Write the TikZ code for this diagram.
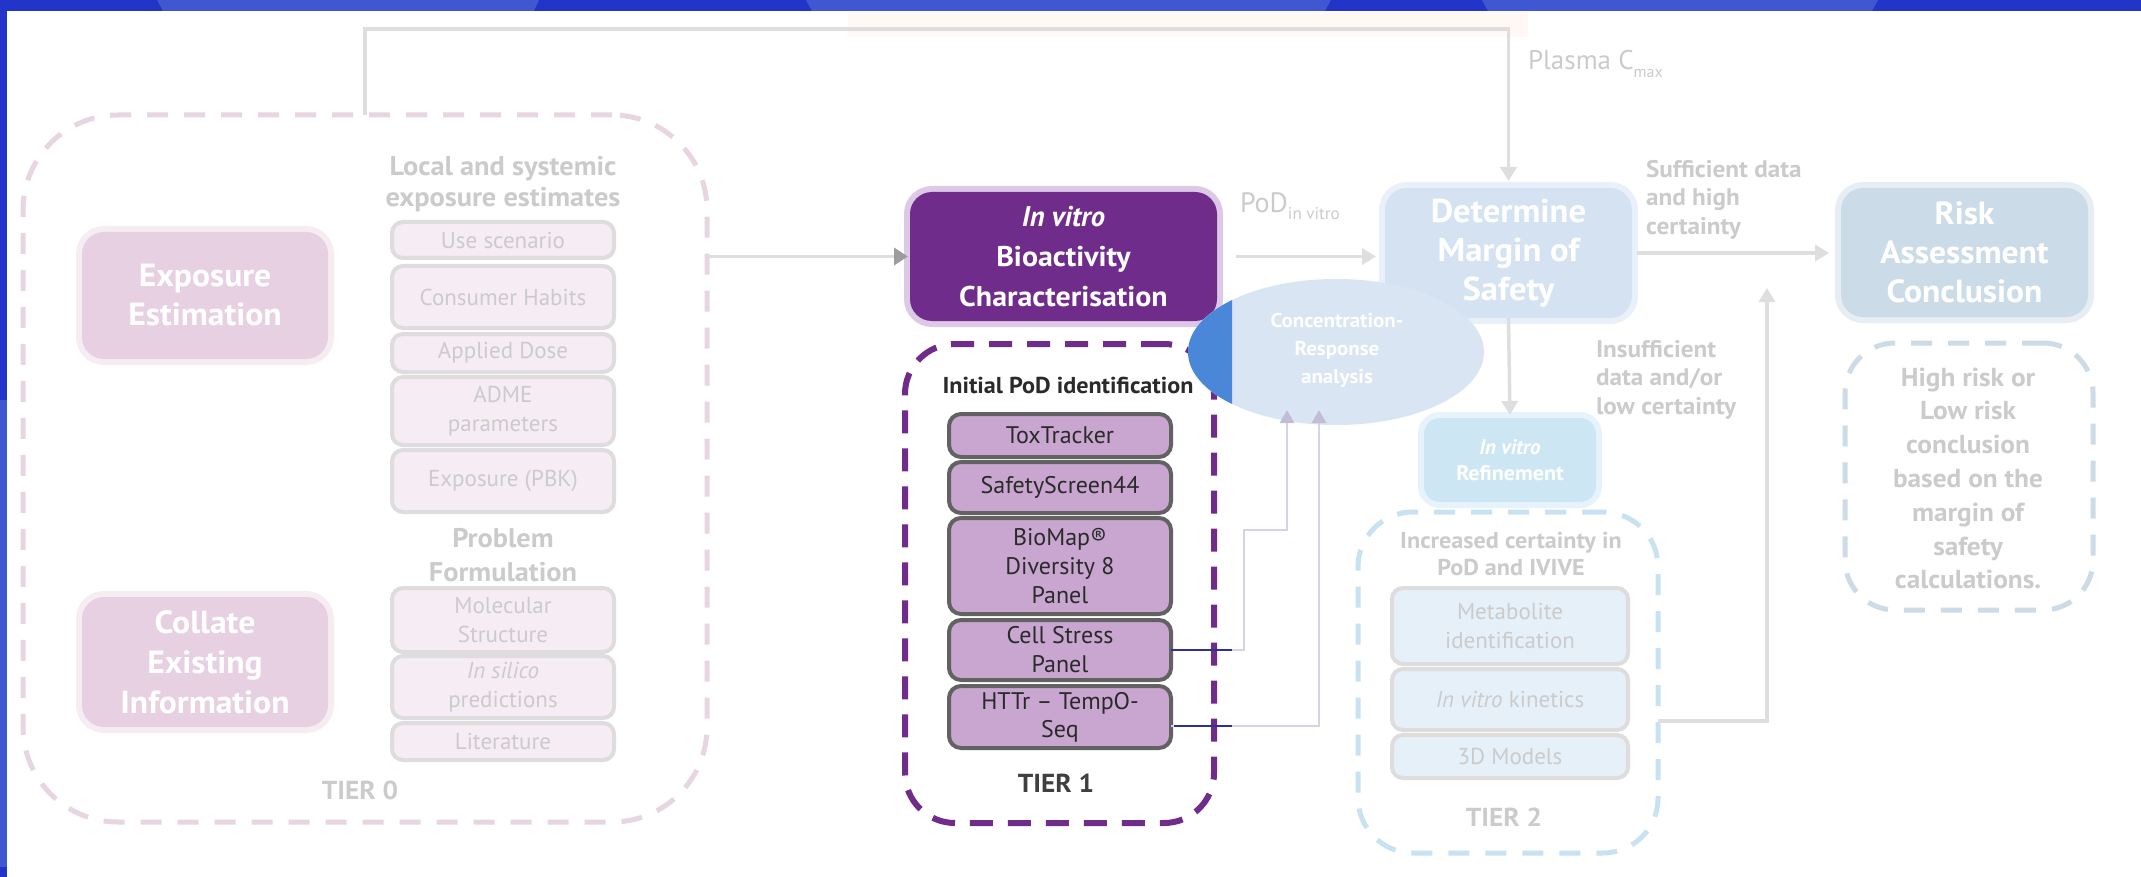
\documentclass[tikz,border=0pt]{standalone}
\usepackage{fontspec}
\setmainfont{PT Sans}[BoldFeatures={FakeStretch=1.05}]
\usetikzlibrary{arrows.meta,shapes.geometric,calc}
\definecolor{bandDark}{HTML}{2334C8}
\definecolor{bandLight}{HTML}{3F58D1}
\definecolor{peach}{HTML}{FFF8F4}
\definecolor{connC}{HTML}{DEDEDE}
\definecolor{tipDark}{HTML}{9C9C9C}
\definecolor{faintText}{HTML}{CBCBCB}
\definecolor{tzeroDash}{HTML}{E7D5E1}
\definecolor{tzeroFill}{HTML}{E6D0E1}
\definecolor{tzeroHalo}{HTML}{F6EDF3}
\definecolor{tzeroItem}{HTML}{F6ECF3}
\definecolor{itemBorder}{HTML}{DEDCDD}
\definecolor{purpleMain}{HTML}{702C8B}
\definecolor{purpleHalo}{HTML}{DCC9E6}
\definecolor{toneFill}{HTML}{C9A6D0}
\definecolor{toneBorder}{HTML}{626262}
\definecolor{darkText}{HTML}{2A2A2A}
\definecolor{crLight}{HTML}{DAE5F4}
\definecolor{crDark}{HTML}{4A87D8}
\definecolor{detFill}{HTML}{D5E2F2}
\definecolor{detHalo}{HTML}{E9F0F9}
\definecolor{refFill}{HTML}{CDE6F4}
\definecolor{refHalo}{HTML}{E6F3FA}
\definecolor{riskFill}{HTML}{CBDCE8}
\definecolor{riskHalo}{HTML}{E6EEF4}
\definecolor{riskDash}{HTML}{CCDBE6}
\definecolor{ttwoDash}{HTML}{C9E2F2}
\definecolor{ttwoItem}{HTML}{E6F0F8}
\definecolor{lavC}{HTML}{D5D2EC}
\definecolor{navyC}{HTML}{2E3192}
\newcommand\fsz[2]{\fontsize{#1}{#2}\selectfont}
\begin{document}
\begin{tikzpicture}[x=1pt,y=-1pt,
  >={Triangle[length=14pt,width=16pt]},
  every node/.style={inner sep=0pt,outer sep=0pt,align=center},
  halo/.style={preaction={draw=#1,line width=12pt}},
  bigbox/.style={rounded corners=22pt,text=white,font=\fsz{29}{39}\bfseries},
  tzeroitem/.style={draw=itemBorder,line width=4pt,fill=tzeroItem,rounded corners=11pt,
     minimum width=222pt,text=faintText,font=\fsz{23}{29}},
  toneitem/.style={draw=toneBorder,line width=4pt,fill=toneFill,rounded corners=12pt,
     minimum width=222pt,text=darkText,font=\fsz{24}{29}},
  ttwoitem/.style={draw=itemBorder,line width=4pt,fill=ttwoItem,rounded corners=11pt,
     minimum width=236pt,text=faintText,font=\fsz{23}{29}},
  faintHead/.style={text=faintText,font=\fsz{27}{31}\bfseries},
  faintLabel/.style={text=faintText,font=\fsz{24}{28.5}\bfseries,align=left},
  tierlabel/.style={font=\fsz{26}{30}\bfseries},
  dashbox/.style={line width=5pt,dash pattern=on 21pt off 16pt},
  conn/.style={draw=connC,line width=3.5pt},
  lavline/.style={draw=lavC,line width=2.5pt,>={Triangle[length=13pt,width=14pt,color=lavC!90!black]}},
  navyline/.style={draw=navyC,line width=2.5pt}
]
\useasboundingbox (0,0) rectangle (2141,877);
\fill[white] (0,0) rectangle (2141,877);
% top banner and left strip
\fill[bandDark] (0,0) rectangle (2141,11);
\fill[bandLight] (157,0) -- (539,0) -- (534,11) -- (163,11) -- cycle;
\fill[bandLight] (806,0) -- (1331,0) -- (1325,11) -- (812,11) -- cycle;
\fill[bandLight] (1482,0) -- (1878,0) -- (1872,11) -- (1488,11) -- cycle;
\fill[bandDark] (0,0) rectangle (7,400);
\fill[bandLight] (0,400) rectangle (7,867);
\fill[bandDark] (0,867) rectangle (7,877);
\fill[peach] (848,12) rectangle (1528,37);

% ---------- TIER 0 ----------
\node[dashbox,draw=tzeroDash,rounded corners=95pt,minimum width=684pt,minimum height=707pt] (tier0) at (365,468.5) {};
\node[bigbox,fill=tzeroFill,halo=tzeroHalo,minimum width=246pt,minimum height=127pt,font=\fsz{32}{39}\bfseries] (expo) at (205,295.5) {Exposure\\Estimation};
\node[bigbox,fill=tzeroFill,halo=tzeroHalo,minimum width=246pt,minimum height=130pt,font=\fsz{32}{40}\bfseries] (collate) at (205,662) {Collate\\Existing\\Information};
\node[faintHead] (localhead) at (503,184) {Local and systemic\\exposure estimates};
\node[tzeroitem,minimum height=36pt] (use) at (503,240) {Use scenario};
\node[tzeroitem,minimum height=62pt] (habits) at (503,297) {Consumer Habits};
\node[tzeroitem,minimum height=38pt] (dose) at (503,353) {Applied Dose};
\node[tzeroitem,minimum height=68pt] (adme) at (503,411) {ADME\\parameters};
\node[tzeroitem,minimum height=62pt] (pbk) at (503,481) {Exposure (PBK)};
\node[faintHead,font=\fsz{27}{34}\bfseries] (probhead) at (503,555) {Problem\\Formulation};
\node[tzeroitem,minimum height=64pt] (mol) at (503,620) {Molecular\\Structure};
\node[tzeroitem,minimum height=62pt] (silico) at (503,687) {\textit{In silico}\\predictions};
\node[tzeroitem,minimum height=37pt] (lit) at (503,741.5) {Literature};
\node[tierlabel,text=faintText] (tzerolabel) at (360,790) {TIER 0};

% ---------- top label ----------
\node[anchor=base west,text=faintText] (plasma) at (1528,70) {{\fsz{27}{30}Plasma C}\raisebox{-8pt}{\fsz{16}{18}max}};

% ---------- determine / risk boxes ----------
\node[bigbox,fill=detFill,halo=detHalo,minimum width=247pt,minimum height=130pt,font=\fsz{33}{39}\bfseries] (det) at (1508.5,253) {Determine\\Margin of\\Safety};
\node[bigbox,fill=riskFill,halo=riskHalo,minimum width=247pt,minimum height=129pt,font=\fsz{32}{39}\bfseries] (risk) at (1964.5,252.5) {Risk\\Assessment\\Conclusion};
\node[bigbox,fill=refFill,halo=refHalo,rounded corners=16pt,minimum width=172pt,minimum height=84pt,font=\fsz{21}{26}\bfseries] (refine) at (1510,460) {\textit{In vitro}\\Refinement};

\draw[conn,->] (tier0.north) -- ++(0,-86) -| ([yshift=7pt]det.north);

% ---------- TIER 1 ----------
\node[dashbox,draw=purpleMain,line width=6pt,dash pattern=on 23pt off 15pt,rounded corners=50pt,minimum width=309pt,minimum height=479pt] (tier1) at (1059.5,583.5) {};
\node[bigbox,fill=purpleMain,halo=purpleHalo,minimum width=307pt,minimum height=129pt,font=\fsz{28.5}{40}\bfseries] (invitro) at (1063.5,256.5) {\textit{In vitro}\\Bioactivity\\Characterisation};
\node[text=darkText,font=\fsz{23}{28}\bfseries] (initial) at (1068,385) {Initial PoD identification};
\node[toneitem,minimum height=43pt] (tox) at (1060,435.5) {ToxTracker};
\node[toneitem,minimum height=51pt] (safety) at (1060,487.5) {SafetyScreen44};
\node[toneitem,minimum height=96pt] (biomap) at (1060,566) {BioMap®\\Diversity 8\\Panel};
\node[toneitem,minimum height=60pt] (cell) at (1060,650) {Cell Stress\\Panel};
\node[toneitem,minimum height=62pt,font=\fsz{24}{28}] (httr) at (1060,717) {HTTr – TempO-\\Seq};
\node[tierlabel,text=darkText!90] (tonelabel) at (1056,783) {TIER 1};

% ---------- concentration-response ellipse ----------
\node[ellipse,fill=crLight,minimum width=296pt,minimum height=146pt] (cr) at (1336,352) {};
\begin{scope}
  \clip (1150,250) rectangle (1232,450);
  \fill[crDark] (cr.center) ellipse [x radius=148pt,y radius=73pt];
\end{scope}
\node[text=white,font=\fsz{20}{28}\bfseries] (crtext) at (1337,350) {Concentration-\\Response\\analysis};
\coordinate (crInA) at (1287,410);
\coordinate (crInB) at (1319,410);
\coordinate (fade) at (1232,0);

% ---------- TIER 2 ----------
\node[dashbox,draw=ttwoDash,rounded corners=55pt,minimum width=300pt,minimum height=341pt] (tier2) at (1508,682.5) {};
\node[faintHead,font=\fsz{23}{27}\bfseries] (incr) at (1511,553.5) {Increased certainty in\\PoD and IVIVE};
\node[ttwoitem,minimum height=76pt] (metab) at (1510,626) {Metabolite\\identification};
\node[ttwoitem,minimum height=61pt] (kin) at (1510,699.5) {\textit{In vitro} kinetics};
\node[ttwoitem,minimum height=43pt] (threed) at (1510,756.5) {3D Models};
\node[tierlabel,text=faintText] (ttwolabel) at (1504,817) {TIER 2};

% ---------- risk dashed box ----------
\node[dashbox,draw=riskDash,rounded corners=50pt,minimum width=248pt,minimum height=267pt] (riskbox) at (1969,476.5) {};
\node[text=faintText,font=\fsz{26}{33.8}\bfseries] (risktext) at (1968,478.5) {High risk or\\Low risk\\conclusion\\based on the\\margin of\\safety\\calculations.};

% ---------- labels ----------
\node[anchor=base west,text=faintText] (pod) at (1240,213) {{\fsz{28}{32}PoD}\raisebox{-7pt}{\fsz{17}{20}in vitro}};
\node[faintLabel,anchor=north west] (suff) at (1646,160) {Sufficient data\\and high\\certainty};
\node[faintLabel,anchor=north west] (insuff) at (1596,340) {Insufficient\\data and/or\\low certainty};

% ---------- connectors ----------
\draw[conn,-{Triangle[length=14pt,width=17pt,color=tipDark]}] (tier0.east |- invitro.west) -- ([xshift=-2pt]invitro.west);
\draw[conn,->,shorten <=19pt,shorten >=9pt] (invitro.east) -- (det.west |- invitro.east);
\draw[conn,->,shorten >=3pt] (det.south) -- (refine.north);
\draw[conn,->,shorten <=5pt,shorten >=12pt] (det.east) -- (risk.west |- det.east);
\coordinate (upTip) at (1767,288);
\draw[conn,->] ([yshift=-38.5pt]tier2.east) -| (upTip);

\draw[lavline,->] (cell.east) -| (1244,530) -| (crInA);
\draw[lavline,->] ([yshift=-9pt]httr.east) -| (crInB);
\draw[navyline] (cell.east) -- (cell.east -| fade);
\draw[navyline] ([xshift=3pt,yshift=-9pt]httr.east) -- ([yshift=-9pt]httr.east -| fade);
\end{tikzpicture}
\end{document}
